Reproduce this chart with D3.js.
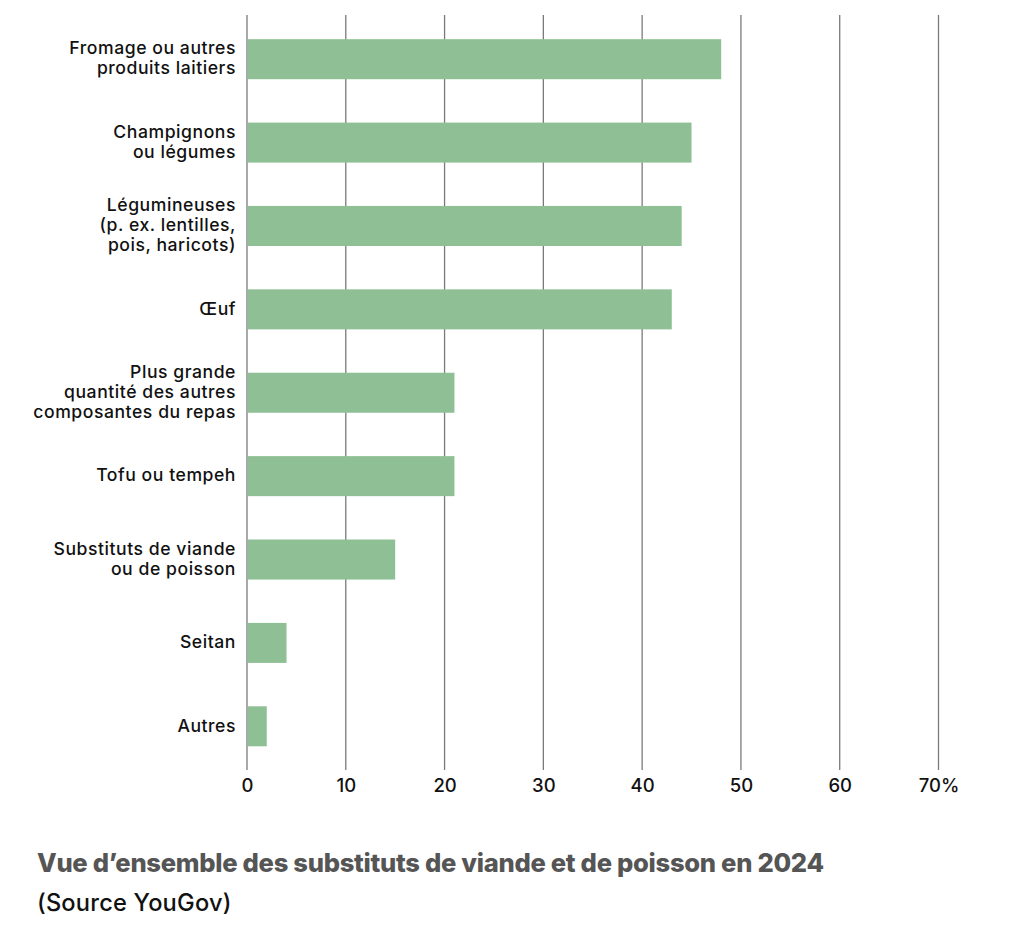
<!DOCTYPE html>
<html><head><meta charset="utf-8">
<script src="https://cdn.jsdelivr.net/npm/d3@7"></script>
<style>
html,body{margin:0;padding:0;background:#fff;}
svg{display:block;}
</style></head>
<body>
<svg id="chart" width="1018" height="932"></svg>
<script>
const categories = [
  "Fromage ou autres|produits laitiers",
  "Champignons|ou légumes",
  "Légumineuses|(p. ex. lentilles,|pois, haricots)",
  "Œuf",
  "Plus grande|quantité des autres|composantes du repas",
  "Tofu ou tempeh",
  "Substituts de viande|ou de poisson",
  "Seitan",
  "Autres"
];
const values = [48, 45, 44, 43, 21, 21, 15, 4, 2];
const tickValues = [0, 10, 20, 30, 40, 50, 60, 70];
const tickLabels = ["0", "10", "20", "30", "40", "50", "60", "70%"];
const title = "Vue d’ensemble des substituts de viande et de poisson en 2024";
const source = "(Source YouGov)";

const svg = d3.select("#chart");
const x = d3.scaleLinear().domain([0, 70]).range([247, 938.5]);
const y = d3.scaleBand().domain(categories).range([17.5, 768]).paddingInner(0.52).paddingOuter(0.26);
const FONT = "Inter, 'Noto Sans', sans-serif";

// grid
svg.append("g").selectAll("line").data(tickValues).join("line")
  .attr("x1", d => x(d)).attr("x2", d => x(d))
  .attr("y1", 15).attr("y2", 770)
  .attr("stroke", "#7a7a7a").attr("stroke-width", 1.3);

// bars
svg.append("g").selectAll("rect").data(values).join("rect")
  .attr("x", x(0) + 0.6)
  .attr("y", (d, i) => y(categories[i]))
  .attr("width", d => x(d) - x(0) - 0.6)
  .attr("height", y.bandwidth())
  .attr("fill", "#8fc095");

// axis tick labels
const xAxis = d3.axisBottom(x).tickValues(tickValues).tickFormat((d, i) => tickLabels[i]).tickSize(0).tickPadding(0);
const ax = svg.append("g").attr("transform", "translate(0,779)").call(xAxis);
ax.select(".domain").remove();
ax.selectAll("text").attr("font-family", FONT).attr("font-weight", 500).attr("font-size", 18.5).attr("fill", "#111").attr("dy", "0.71em");

// category labels
const lab = svg.append("g").selectAll("text").data(categories).join("text")
  .attr("text-anchor", "end")
  .attr("font-family", FONT)
  .attr("font-weight", 500)
  .attr("font-size", 17.6)
  .attr("letter-spacing", 0.55)
  .attr("fill", "#111")
  .attr("x", 236)
  .attr("y", d => y(d) + y.bandwidth() / 2);
lab.each(function(d) {
  const lines = d.split("|");
  const lh = 20;
  const t = d3.select(this);
  lines.forEach((l, i) => {
    t.append("tspan").attr("x", 236)
      .attr("y", y(d) + y.bandwidth() / 2 + (i - (lines.length - 1) / 2) * lh)
      .attr("dy", "0.3em").text(l);
  });
});

// title
const tt = svg.append("text").attr("x", 37).attr("y", 872)
  .attr("font-family", FONT)
  .attr("font-weight", 800).attr("font-size", 21).attr("letter-spacing", -0.3).attr("fill", "#555")
  .text(title);
const w = tt.node().getComputedTextLength();
tt.attr("font-size", 21 * 783 / w);
const st = svg.append("text").attr("x", 37).attr("y", 911)
  .attr("font-family", FONT)
  .attr("font-size", 22).attr("font-weight", 500).attr("letter-spacing", 0.2).attr("fill", "#111")
  .text(source);
const ws = st.node().getComputedTextLength();
st.attr("font-size", 22 * 195 / ws);
</script>
</body></html>
